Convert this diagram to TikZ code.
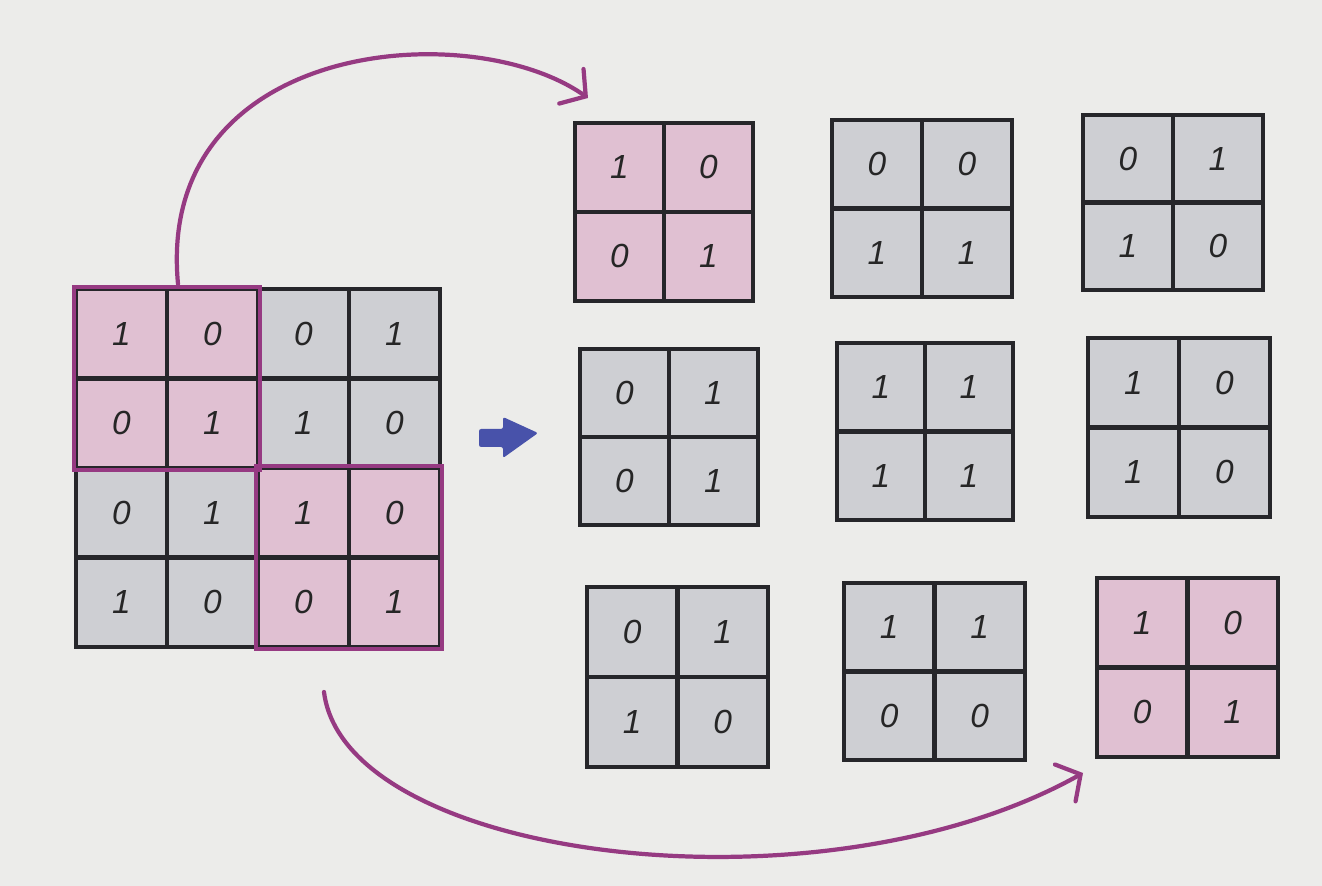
\documentclass[tikz,border=0pt]{standalone}
\usepackage{fontspec}
\setmainfont{Liberation Sans}
\usetikzlibrary{arrows.meta,fit}
\definecolor{paper}{RGB}{236,236,234}
\definecolor{pinkcell}{RGB}{224,192,210}
\definecolor{graycell}{RGB}{206,207,211}
\definecolor{gridline}{RGB}{38,38,42}
\definecolor{plum}{RGB}{150,58,130}
\definecolor{arrowblue}{RGB}{72,82,170}
\tikzset{
  cell/.style={draw=gridline, line width=1.3pt, inner sep=0pt, outer sep=0pt,
    font=\fontsize{9.5}{11}\selectfont\itshape, text=black!85},
  hl/.style={draw=plum, line width=1.2pt, inner sep=0.6pt},
  curve/.style={draw=plum, line width=1.2pt, line cap=round,
    -{Straight Barb[length=5pt,width=12pt,line cap=round]}},
}
\begin{document}
\begin{tikzpicture}[x=0.01cm,y=-0.01cm]
  \useasboundingbox (0,0) rectangle (1322,886);
  \fill[paper] (0,0) rectangle (1322,886);
  % big 4x4 grid
  \foreach \rr/\cc/\vv/\ff in {
    1/1/1/pinkcell, 1/2/0/pinkcell, 1/3/0/graycell, 1/4/1/graycell,
    2/1/0/pinkcell, 2/2/1/pinkcell, 2/3/1/graycell, 2/4/0/graycell,
    3/1/0/graycell, 3/2/1/graycell, 3/3/1/pinkcell, 3/4/0/pinkcell,
    4/1/1/graycell, 4/2/0/graycell, 4/3/0/pinkcell, 4/4/1/pinkcell}
  {
    \node[cell, fill=\ff, minimum width=25.89pt, minimum height=25.47pt]
      (g-\rr-\cc) at ({76+91*(\cc-0.5)}, {289+89.5*(\rr-0.5)}) {\vv};
  }
  \node[hl, fit=(g-1-1)(g-2-2)] (hl1) {};
  \node[hl, fit=(g-3-3)(g-4-4)] (hl2) {};
  % small 2x2 grids
  \foreach \nn/\xa/\ya/\xb/\yb/\ff/\pa/\pb/\pc/\pd in {
    A1/575/123/753/301/pinkcell/1/0/0/1,
    B1/832/120/1012/297/graycell/0/0/1/1,
    C1/1083/115/1263/290/graycell/0/1/1/0,
    A2/580/349/758/525/graycell/0/1/0/1,
    B2/837/343/1013/520/graycell/1/1/1/1,
    C2/1088/338/1270/517/graycell/1/0/1/0,
    A3/587/587/768/767/graycell/0/1/1/0,
    B3/844/583/1025/760/graycell/1/1/0/0,
    C3/1097/578/1278/757/pinkcell/1/0/0/1}
  {
    \pgfmathsetmacro\ww{(\xb-\xa)/2}
    \pgfmathsetmacro\hh{(\yb-\ya)/2}
    \pgfmathsetmacro\wpt{\ww*0.284528}
    \pgfmathsetmacro\hpt{\hh*0.284528}
    \tikzset{sc/.style={cell, fill=\ff, minimum width=\wpt pt, minimum height=\hpt pt}}
    \node[sc] (\nn-1-1) at ({\xa+\ww/2}, {\ya+\hh/2}) {\pa};
    \node[sc] (\nn-1-2) at ({\xa+3*\ww/2}, {\ya+\hh/2}) {\pb};
    \node[sc] (\nn-2-1) at ({\xa+\ww/2}, {\ya+3*\hh/2}) {\pc};
    \node[sc] (\nn-2-2) at ({\xa+3*\ww/2}, {\ya+3*\hh/2}) {\pd};
  }
  % blue block arrow
  \fill[arrowblue, rounded corners=0.6pt] (479,429) -- (503,429) -- (503,417) -- (538,433)
    -- (503,458) -- (503,447) -- (479,447) -- cycle;
  % curved arrows
  \coordinate (s1) at (178,284);
  \coordinate (t1) at (588,98);
  \draw[curve] (s1) .. controls (155,40) and (470,15) .. (t1);
  \coordinate (s2) at (324,692);
  \coordinate (t2) at (1083,773);
  \draw[curve] (s2) .. controls (345,860) and (820,920) .. (t2);
\end{tikzpicture}
\end{document}
